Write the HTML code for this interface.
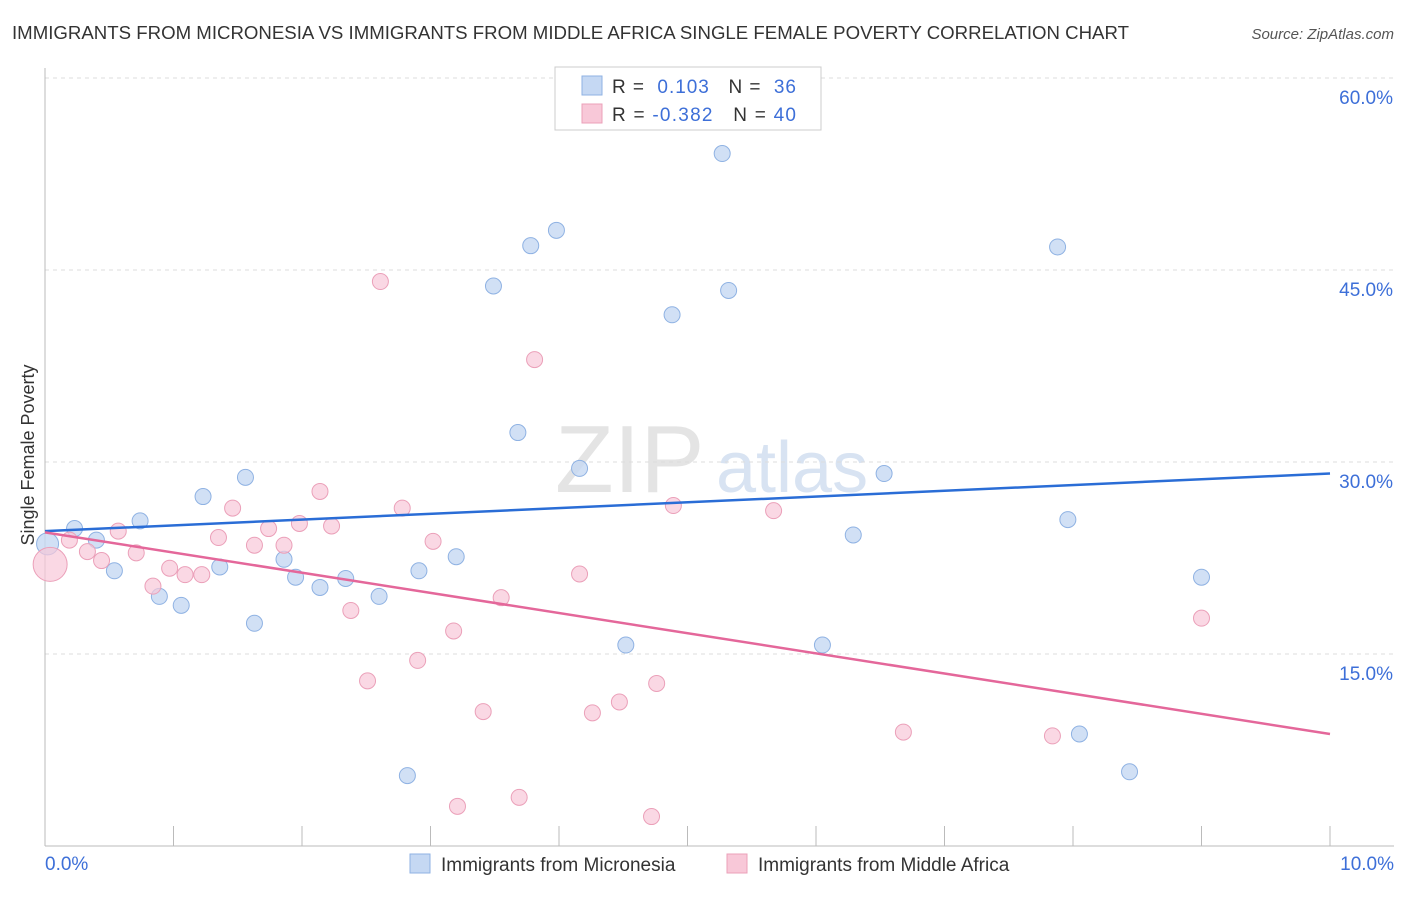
<!DOCTYPE html>
<html><head><meta charset="utf-8"><style>
body{margin:0;background:#fff;font-family:"Liberation Sans",sans-serif}
svg text{font-family:"Liberation Sans",sans-serif}
</style></head><body>
<svg id="chart" width="1406" height="892">
<text x="12" y="39" font-size="18" fill="#333" textLength="1117" lengthAdjust="spacingAndGlyphs">IMMIGRANTS FROM MICRONESIA VS IMMIGRANTS FROM MIDDLE AFRICA SINGLE FEMALE POVERTY CORRELATION CHART</text>
<text x="1394" y="39" font-size="15" fill="#555" font-style="italic" text-anchor="end">Source: ZipAtlas.com</text>
<text x="34" y="455" font-size="18" fill="#333" text-anchor="middle" transform="rotate(-90 34 455)">Single Female Poverty</text>
<text x="555" y="492" font-size="96" fill="#e4e4e4" font-family="Liberation Serif">ZIP</text>
<text x="716" y="492" font-size="72" fill="#d8e3f2">atlas</text>
<g id="grid"></g><g id="axes"></g><g id="pts"></g><g id="lines"></g>
<g>
<rect x="555" y="67" width="266" height="63" fill="#fff" stroke="#ccc"/>
<rect x="582" y="76" width="20" height="19" fill="#c5d8f3" stroke="#8fb2e3"/>
<rect x="582" y="104" width="20" height="19" fill="#f8c8d8" stroke="#eba0b9"/>
<text x="612" y="93" font-size="19" fill="#333" textLength="184" lengthAdjust="spacing">R = <tspan fill="#3d6fd8">&#160;0.103</tspan>&#160;&#160;&#160;N = <tspan fill="#3d6fd8">&#160;36</tspan></text>
<text x="612" y="121" font-size="19" fill="#333" textLength="184" lengthAdjust="spacing">R = <tspan fill="#3d6fd8">-0.382</tspan>&#160;&#160;&#160;N = <tspan fill="#3d6fd8">40</tspan></text>
</g>
<g>
<rect x="410" y="854" width="20" height="19" fill="#c5d8f3" stroke="#8fb2e3"/>
<text x="441" y="871" font-size="19" fill="#333">Immigrants from Micronesia</text>
<rect x="727" y="854" width="20" height="19" fill="#f8c8d8" stroke="#eba0b9"/>
<text x="758" y="871" font-size="19" fill="#333">Immigrants from Middle Africa</text>
</g>
</svg>
<script>
const yTicks=[15,30,45,60];
const xTickLabels=["0.0%","10.0%"];
const blueX=[0.02,0.23,0.40,0.54,0.74,0.89,1.06,1.23,1.36,1.56,1.63,1.86,1.95,2.14,2.34,2.60,2.82,2.91,3.20,3.49,3.68,3.78,3.98,4.16,4.52,4.88,5.27,5.32,6.05,6.29,6.53,7.88,7.96,8.05,8.44,9.00];
const blueY=[23.6,24.8,23.9,21.5,25.4,19.5,18.8,27.3,21.8,28.8,17.4,22.4,21.0,20.2,20.9,19.5,5.5,21.5,22.6,43.75,32.3,46.9,48.1,29.5,15.7,41.5,54.1,43.4,15.7,24.3,29.1,46.8,25.5,8.75,5.8,21.0];
const pinkX=[0.04,0.19,0.33,0.44,0.57,0.71,0.84,0.97,1.09,1.22,1.35,1.46,1.63,1.74,1.86,1.98,2.14,2.23,2.38,2.51,2.61,2.78,2.90,3.02,3.18,3.41,3.55,3.81,4.16,4.26,4.47,4.72,4.76,4.89,5.67,6.68,7.84,9.00,3.21,3.69];
const pinkY=[22.0,23.9,23.0,22.3,24.6,22.9,20.3,21.7,21.2,21.2,24.1,26.4,23.5,24.8,23.5,25.2,27.7,25.0,18.4,12.9,44.1,26.4,14.5,23.8,16.8,10.5,19.4,38.0,21.25,10.4,11.25,2.3,12.7,26.6,26.2,8.9,8.6,17.8,3.1,3.8];
const blueTrend=[24.6,29.1];
const pinkTrend=[24.5,8.75];
const NS="http://www.w3.org/2000/svg";
const sx=v=>45+v*128.5, sy=v=>846-v*12.8;
function mk(tag,attrs,parent){const e=document.createElementNS(NS,tag);for(const k in attrs)e.setAttribute(k,attrs[k]);document.getElementById(parent).appendChild(e);return e;}
yTicks.forEach(t=>{
 const l=mk('line',{x1:45,x2:1394,y1:sy(t),y2:sy(t),stroke:'#ddd','stroke-dasharray':'4,4'},'grid');
 
 
 const tx=mk('text',{x:1393,y:sy(t)+26,'font-size':19,fill:'#3d6fd8','text-anchor':'end'},'grid');tx.textContent=t.toFixed(1)+'%';
 
 
});
mk('line',{x1:45,x2:45,y1:68,y2:846,stroke:'#bbb'},'axes');
mk('line',{x1:45,x2:1394,y1:846,y2:846,stroke:'#bbb'},'axes');
for(let i=0;i<=10;i++){mk('line',{x1:sx(i),x2:sx(i),y1:826,y2:846,stroke:'#bbb'},'axes');}
[[0,'start',45],[1,'end',1394]].forEach(([i,a,x])=>{const t=mk('text',{x:x,y:870,'font-size':19,fill:'#3d6fd8','text-anchor':a},'axes');t.textContent=xTickLabels[i];
 
 });
blueX.forEach((x,i)=>{const c=mk('circle',{cx:sx(x),cy:sy(blueY[i]),r:i==0?11:8,fill:'#c5d8f3','fill-opacity':0.8,stroke:'#8fb2e3'},'pts');
 
 });
pinkX.forEach((x,i)=>{const c=mk('circle',{cx:sx(x),cy:sy(pinkY[i]),r:i==0?17:8,fill:'#f8c8d8','fill-opacity':0.7,stroke:'#eba0b9'},'pts');
 
 });
const bl=mk('line',{x1:sx(0),x2:sx(10),y1:sy(blueTrend[0]),y2:sy(blueTrend[1]),stroke:'#2a6dd6','stroke-width':2.5},'lines');


const pl=mk('line',{x1:sx(0),x2:sx(10),y1:sy(pinkTrend[0]),y2:sy(pinkTrend[1]),stroke:'#e4679a','stroke-width':2.5},'lines');


</script>
</body></html>
